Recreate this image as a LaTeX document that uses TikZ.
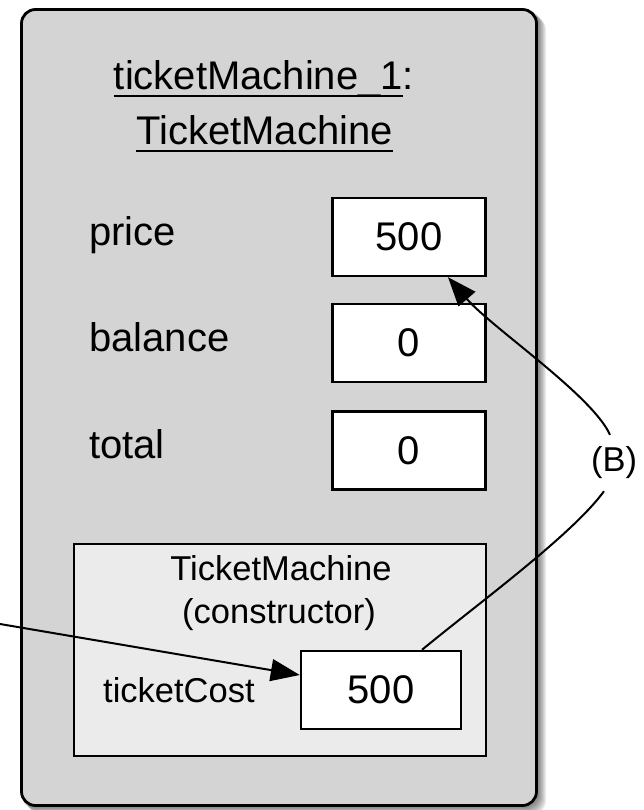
\documentclass[tikz,border=0pt]{standalone}
\usepackage{fontspec}
\setmainfont{Liberation Sans}
\usetikzlibrary{arrows.meta,calc}
\definecolor{outerfill}{HTML}{D4D4D4}
\definecolor{innerfill}{HTML}{EBEBEB}
\newcommand\myul[1]{\leavevmode\setbox0=\hbox{#1}\rlap{\rule[-7.5pt]{\wd0}{2.4pt}}\box0}
\begin{document}
\begin{tikzpicture}[x=1pt,y=-1pt,
  big/.style={font=\fontsize{40}{48}\selectfont},
  small/.style={font=\fontsize{34.5}{41}\selectfont},
  valbox/.style={draw, line width=2.4pt, fill=white, minimum width=153pt, minimum height=78pt, inner sep=0pt, big},
  lbl/.style={anchor=base west, inner sep=0pt, big},
  ctext/.style={anchor=base, inner sep=0pt},
  conn/.style={line width=2pt},
  tip/.style={-{Triangle[length=29pt,width=22pt]}}
]
\useasboundingbox (0,0) rectangle (643,810);
% shadow
\foreach \i in {1,...,8}
  \fill[black, opacity=0.07, rounded corners=14pt] (20+\i,8+\i) rectangle (538+\i,807+\i);
\node[draw, line width=2.8pt, fill=outerfill, rounded corners=14pt,
      minimum width=515pt, minimum height=796pt, inner sep=0pt] (outer) at (279,407.5) {};
% title
\node[big, ctext] (title1) at (264,90) {\myul{ticketMachine\_1}:};
\node[big, ctext] (title2) at (264.5,145) {\myul{TicketMachine}};
% attributes
\node[lbl] (pricel) at (89,245) {price};
\node[valbox] (pricebox) at (409,237) {500};
\node[lbl] (balancel) at (89,351) {balance};
\node[valbox] (balancebox) at (409,343) {0};
\node[lbl] (totall) at (89,458) {total};
\node[valbox] (totalbox) at (409,450.5) {0};
% constructor
\node[draw, line width=2.4pt, fill=innerfill, minimum width=412pt, minimum height=212pt, inner sep=0pt] (ctor) at (280,650) {};
\node[small, ctext] (ctor1) at (281,580) {TicketMachine};
\node[small, ctext] (ctor2) at (279,623) {(constructor)};
\node[small, anchor=base west, inner sep=0pt] (tcl) at (103,702) {ticketCost};
\node[valbox, minimum width=160pt] (tc) at (381,690) {500};
% label B
\node[small, inner sep=0pt, minimum height=56pt] (B) at (614,463) {(B)};
% connectors
\coordinate (ext) at (0,624);
\draw[conn, tip] (ext) -- ($(tc.west)+(0,-15)$);
\draw[conn] ($(tc.north)+(41,0)$) .. controls (480,602) and (572,535) .. ($(B.south)+(-10,0)$);
\draw[conn, tip] ($(B.north)+(-4,0)$) .. controls (592,395) and (492,328) .. ($(pricebox.south)+(39,0)$);
\end{tikzpicture}
\end{document}
